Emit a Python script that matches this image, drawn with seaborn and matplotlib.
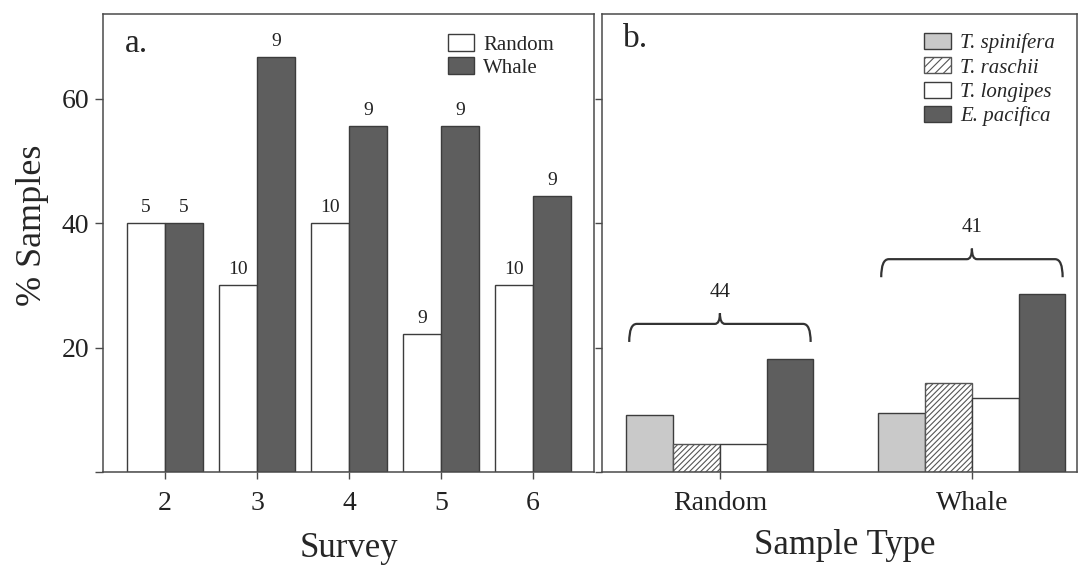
import matplotlib
matplotlib.use("Agg")
import matplotlib.pyplot as plt
from matplotlib.path import Path
from matplotlib.patches import PathPatch
import seaborn as sns
import pandas as pd

# ---- data ----
surveys = ["2", "3", "4", "5", "6"]
random_pct = [40.0, 30.0, 40.0, 22.2, 30.0]
whale_pct = [40.0, 66.7, 55.6, 55.6, 44.4]
random_n = [5, 10, 10, 9, 10]
whale_n = [5, 9, 9, 9, 9]

sample_types = ["Random", "Whale"]
species = ["T. spinifera", "T. raschii", "T. longipes", "E. pacifica"]
random_species_pct = [9.1, 4.5, 4.5, 18.2]
whale_species_pct = [9.5, 14.3, 11.9, 28.6]
group_n = [44, 41]

y_ticks = [0, 20, 40, 60]
y_tick_labels = ["", "20", "40", "60"]

# ---- style ----
sns.set_style("ticks")
plt.rcParams["font.family"] = ["Liberation Serif", "DejaVu Serif"]
plt.rcParams["hatch.linewidth"] = 0.8

EDGE = "#3c3c3c"
SPINE = "#4a4a4a"
DARK = "#5e5e5e"
LIGHT = "#c9c9c9"
HATCH = "//////"

W, H = 1078, 565
fig = plt.figure(figsize=(W / 100, H / 100), dpi=100)


def px_axes(left, right, top, bottom):
    return fig.add_axes([left / W, (H - bottom) / H, (right - left) / W, (bottom - top) / H])


ax_a = px_axes(103, 594, 14, 472)
ax_b = px_axes(602, 1077, 14, 472)
YMAX = 73.6

# ---- panel a: by survey ----
df_a = pd.DataFrame({
    "Survey": surveys * 2,
    "pct": random_pct + whale_pct,
    "type": ["Random"] * len(surveys) + ["Whale"] * len(surveys),
})
sns.barplot(data=df_a, x="Survey", y="pct", hue="type", order=surveys,
            hue_order=["Random", "Whale"],
            palette={"Random": "white", "Whale": DARK},
            edgecolor=EDGE, linewidth=1.0, width=0.83, saturation=1,
            ax=ax_a)
for cont, counts in zip(ax_a.containers, [random_n, whale_n]):
    ax_a.bar_label(cont, labels=[str(c) for c in counts], padding=5,
                   fontsize=14, color="#222222")

ax_a.set_xlim(-0.674, 4.663)
ax_a.set_ylim(0, YMAX)
ax_a.set_yticks(y_ticks)
ax_a.set_yticklabels(y_tick_labels)
ax_a.set_xlabel("Survey", fontsize=25)
ax_a.set_ylabel("% Samples", fontsize=26)
ax_a.yaxis.set_label_coords(-0.11, 0.539)
ax_a.xaxis.set_label_coords(0.5, -0.132)
ax_a.text(0.045, 0.935, "a.", transform=ax_a.transAxes, fontsize=24,
          va="center", ha="left")
ax_a.legend(loc="upper left",
            bbox_to_anchor=(448 / W, (H - 34) / H),
            bbox_transform=fig.transFigure,
            frameon=False, fontsize=15, borderpad=0, borderaxespad=0,
            handlelength=1.25, handleheight=0.85, labelspacing=0.12,
            handletextpad=0.45, title=None)

# ---- panel b: by sample type and species ----
df_b = pd.DataFrame({
    "Sample Type": ["Random"] * len(species) + ["Whale"] * len(species),
    "species": species * 2,
    "pct": random_species_pct + whale_species_pct,
})
sp_colors = {"T. spinifera": LIGHT, "T. raschii": "white",
             "T. longipes": "white", "E. pacifica": DARK}
sns.barplot(data=df_b, x="Sample Type", y="pct", hue="species",
            order=sample_types, hue_order=species, palette=sp_colors,
            edgecolor=EDGE, linewidth=1.0, width=0.742, saturation=1,
            ax=ax_b)
for patch in ax_b.containers[1]:
    patch.set_hatch(HATCH)
    patch.set_edgecolor("#555555")

ax_b.set_xlim(-0.468, 1.417)
ax_b.set_ylim(0, YMAX)
ax_b.set_yticks(y_ticks)
ax_b.set_yticklabels([])
ax_b.set_ylabel("")
ax_b.set_xlabel("Sample Type", fontsize=25)
ax_b.xaxis.set_label_coords(0.51, -0.125)
ax_b.text(0.045, 0.945, "b.", transform=ax_b.transAxes, fontsize=24,
          va="center", ha="left")
leg_b = ax_b.legend(loc="upper left",
                    bbox_to_anchor=(924 / W, (H - 33) / H),
                    bbox_transform=fig.transFigure,
                    frameon=False, borderpad=0, borderaxespad=0,
                    prop={"family": ["Liberation Serif"], "style": "italic", "size": 15},
                    handlelength=1.3, handleheight=0.8, labelspacing=0.2,
                    handletextpad=0.45, title=None)
for h in leg_b.legend_handles:
    h.set_edgecolor(EDGE)
leg_b.legend_handles[1].set_hatch("////")
leg_b.legend_handles[1].set_edgecolor("#555555")


# curly brackets with sample counts above each group
def brace(ax, xc, half, y_base, label):
    x0, x1 = xc - half, xc + half
    y_end = y_base - 2.9
    y_cusp = y_base + 1.7
    rx, rc = 0.03, 0.02
    verts = [
        (x0, y_end), (x0, y_base), (x0 + rx, y_base),
        (xc - rc, y_base),
        (xc, y_base), (xc, y_cusp),
        (xc, y_base), (xc + rc, y_base),
        (x1 - rx, y_base),
        (x1, y_base), (x1, y_end),
    ]
    codes = [Path.MOVETO, Path.CURVE3, Path.CURVE3,
             Path.LINETO,
             Path.CURVE3, Path.CURVE3,
             Path.CURVE3, Path.CURVE3,
             Path.LINETO,
             Path.CURVE3, Path.CURVE3]
    ax.add_patch(PathPatch(Path(verts, codes), facecolor="none",
                           edgecolor="#333333", lw=1.6))
    ax.text(xc, y_base + 5.1, label, ha="center", va="center",
            fontsize=15, color="#222222")


group_max = [max(random_species_pct), max(whale_species_pct)]
for i, (m, n) in enumerate(zip(group_max, group_n)):
    brace(ax_b, i, 0.36, m + 5.6, str(n))

# ---- axes cosmetics ----
for ax in (ax_a, ax_b):
    for s in ax.spines.values():
        s.set_visible(True)
        s.set_color(SPINE)
        s.set_linewidth(1.1)
    ax.tick_params(axis="both", direction="out", length=5, width=1.0,
                   color=SPINE, labelsize=20, labelcolor="#222222")
    ax.tick_params(axis="x", pad=9)
ax_a.tick_params(axis="y", length=6, pad=4)

fig.savefig("out.png", dpi=100, facecolor="white")
